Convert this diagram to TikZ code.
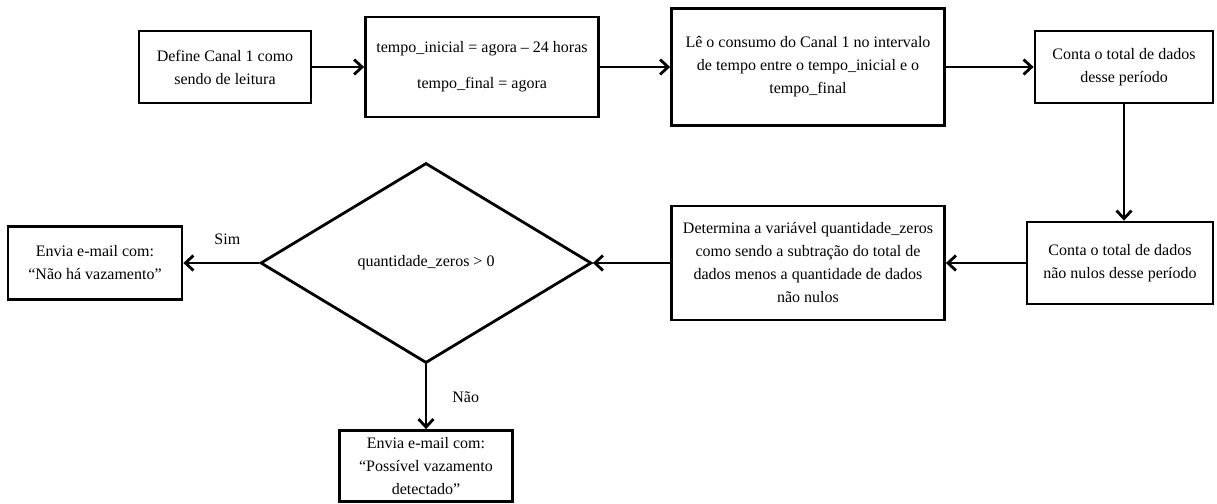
\documentclass[tikz,border=0pt]{standalone}
\usepackage{fontspec}
\setmainfont{Liberation Serif}
\usetikzlibrary{shapes.geometric,arrows.meta}
\tikzset{
  caixa/.style={draw, line width=2.8pt, align=center, inner sep=0pt,
    font=\fontsize{16}{23}\selectfont},
  decisao/.style={draw, diamond, line width=2.8pt, inner sep=0pt,
    font=\fontsize{16}{23}\selectfont},
  rotulo/.style={inner sep=0pt, font=\fontsize{16}{23}\selectfont},
  seta/.style={->, line width=2.8pt},
}
\begin{document}
\begin{tikzpicture}[x=1pt,y=-1pt,>={Straight Barb[length=8pt,width=15pt]}]
 \useasboundingbox (0,0) rectangle (1217,503);
 % linha de cima
 \node[caixa, minimum width=172, minimum height=72] (canal) at (225,67)
   {Define Canal 1 como\\sendo de leitura};
 \node[caixa, minimum width=233, minimum height=100] (tempos) at (482,67)
   {tempo\_inicial = agora -- 24 horas\\[13pt]tempo\_final = agora};
 \node[caixa, minimum width=273, minimum height=117] (consumo) at (808,67)
   {Lê o consumo do Canal 1 no intervalo\\de tempo entre o tempo\_inicial e o\\tempo\_final};
 \node[caixa, minimum width=178, minimum height=72] (total) at (1124,67)
   {Conta o total de dados\\desse período};
 % linha de baixo
 \node[caixa, minimum width=186, minimum height=82] (naonulos) at (1120,263)
   {Conta o total de dados\\não nulos desse período};
 \node[caixa, minimum width=273, minimum height=114] (zeros) at (808,263)
   {Determina a variável quantidade\_zeros\\como sendo a subtração do total de\\dados menos a quantidade de dados\\não nulos};
 \node[decisao, minimum width=331, minimum height=200] (teste) at (426,263)
   {quantidade\_zeros > 0};
 \node[caixa, minimum width=174, minimum height=73] (semvaz) at (95,263)
   {Envia e-mail com:\\“Não há vazamento”};
 \node[caixa, minimum width=173, minimum height=71] (comvaz) at (426,466)
   {Envia e-mail com:\\“Possível vazamento\\detectado”};
 % setas
 \draw[seta] (canal) -- (tempos);
 \draw[seta] (tempos) -- (consumo);
 \draw[seta] (consumo) -- (total);
 \draw[seta] (total.south) -- (total.south |- naonulos.north);
 \draw[seta] (naonulos) -- (zeros);
 \draw[seta] (zeros) -- (teste);
 \draw[seta] (teste.west) -- (semvaz.east)
   node[rotulo, pos=0.42, above=17pt] (sim) {Sim};
 \draw[seta] (teste.south) -- (comvaz.north)
   node[rotulo, pos=0.5, right=25pt] (nao) {Não};
\end{tikzpicture}
\end{document}
